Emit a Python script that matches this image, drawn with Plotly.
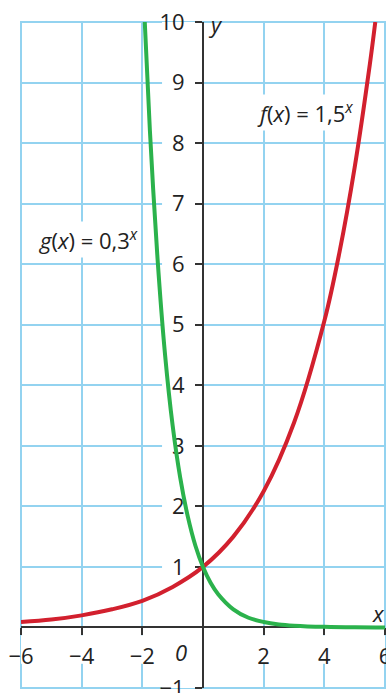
import plotly.graph_objects as go

# Werte
f_x = [-6, -5, -4, -3, -2, -1, 0, 1, 2, 3, 4, 4.5, 5, 5.5, 5.68]
f_y = [0.09, 0.13, 0.2, 0.3, 0.44, 0.67, 1, 1.5, 2.25, 3.38, 5.06, 6.2, 7.6, 9.3, 10]

g_x = [-1.92, -1.75, -1.5, -1.25, -1, -0.75, -0.5, -0.25, 0, 0.25, 0.5, 1, 1.5, 2, 2.5, 3, 4, 5, 6]
g_y = [10, 8.2, 6.1, 4.5, 3.33, 2.47, 1.83, 1.35, 1, 0.74, 0.55, 0.3, 0.16, 0.09, 0.05, 0.03, 0.01, 0.002, 0.001]

x_ticks = [-6, -4, -2, 2, 4, 6]
x_labels = ["−6", "−4", "−2", "2", "4", "6"]
y_ticks = [-1, 1, 2, 3, 4, 5, 6, 7, 8, 9, 10]
y_labels = ["−1", "1", "2", "3", "4", "5", "6", "7", "8", "9", "10"]

schrift = "Open Sans"
gitter = "#93d3f0"
achse = "#333333"

fig = go.Figure()
fig.add_trace(go.Scatter(x=f_x, y=f_y, mode="lines", line_shape="spline",
                         line=dict(color="#d2202e", width=4), name="f"))
fig.add_trace(go.Scatter(x=g_x, y=g_y, mode="lines", line_shape="spline",
                         line=dict(color="#2bb24c", width=4), name="g"))

# Rand des Gitters
fig.add_shape(type="rect", xref="paper", yref="paper", x0=0, x1=1, y0=0, y1=1,
              line=dict(color=gitter, width=2), layer="between")

# weisse Flaechen hinter den Achsenbeschriftungen (unterbrechen das Gitter)
for v in x_ticks:
    fig.add_shape(type="rect", x0=v - 0.5, x1=v + 0.5, y0=-0.6, y1=-0.13,
                  fillcolor="white", line_width=0, layer="between")
for v in y_ticks:
    fig.add_shape(type="rect", x0=-1.35, x1=-0.2, y0=v - 0.2, y1=v + 0.2,
                  fillcolor="white", line_width=0, layer="between")

fig.add_annotation(x=3.36, y=8.5, text="<i>f</i>(<i>x</i>) = 1,5<sup><i>x</i></sup>",
                   showarrow=False, bgcolor="white", borderpad=2, font=dict(size=22))
fig.add_annotation(x=-3.8, y=6.4, text="<i>g</i>(<i>x</i>) = 0,3<sup><i>x</i></sup>",
                   showarrow=False, bgcolor="white", borderpad=2, font=dict(size=22))
fig.add_annotation(x=-0.73, y=-0.4, text="<i>0</i>", showarrow=False, font=dict(size=22))
fig.add_annotation(x=0.42, y=9.97, text="<i>y</i>", showarrow=False, font=dict(size=22))
fig.add_annotation(x=5.8, y=0.24, text="<i>x</i>", showarrow=False, font=dict(size=22))

fig.update_layout(
    width=386, height=693,
    margin=dict(l=21, r=1, t=22, b=5),
    paper_bgcolor="white", plot_bgcolor="white",
    showlegend=False,
    font=dict(family=schrift, size=22, color="#222222"),
)
fig.update_xaxes(
    range=[-6, 6], dtick=2, tick0=0,
    showgrid=True, gridcolor=gitter, gridwidth=2, zeroline=False,
    anchor="free", position=1 / 11,
    showline=True, linecolor=achse, linewidth=2,
    tickmode="array", tickvals=x_ticks, ticktext=x_labels,
    ticks="outside", ticklen=7, tickwidth=1.5, tickcolor=achse,
    ticklabelstandoff=2, ticklabeloverflow="allow",
    layer="below traces", fixedrange=True, automargin=False,
)
fig.update_yaxes(
    range=[-1, 10],
    showgrid=True, gridcolor=gitter, gridwidth=2, zeroline=False,
    anchor="free", position=0.5,
    showline=True, linecolor=achse, linewidth=2,
    tickmode="array", tickvals=y_ticks, ticktext=y_labels,
    ticks="outside", ticklen=7, tickwidth=1.5, tickcolor=achse,
    ticklabelstandoff=6, ticklabeloverflow="allow",
    layer="below traces", fixedrange=True, automargin=False,
)
# Gitter: x alle 2, y alle 1
fig.update_xaxes(minor=dict(tickvals=[-6, -4, -2, 0, 2, 4, 6], showgrid=True,
                            gridcolor=gitter, gridwidth=2, ticks=""))
fig.update_yaxes(minor=dict(tickvals=list(range(-1, 11)), showgrid=True,
                            gridcolor=gitter, gridwidth=2, ticks=""))

# Seitenrand der HTML-Seite entfernen, keine Werkzeugleiste
fig.write_html("out.html", config={"displayModeBar": False},
               post_script="document.body.style.margin='0';")
